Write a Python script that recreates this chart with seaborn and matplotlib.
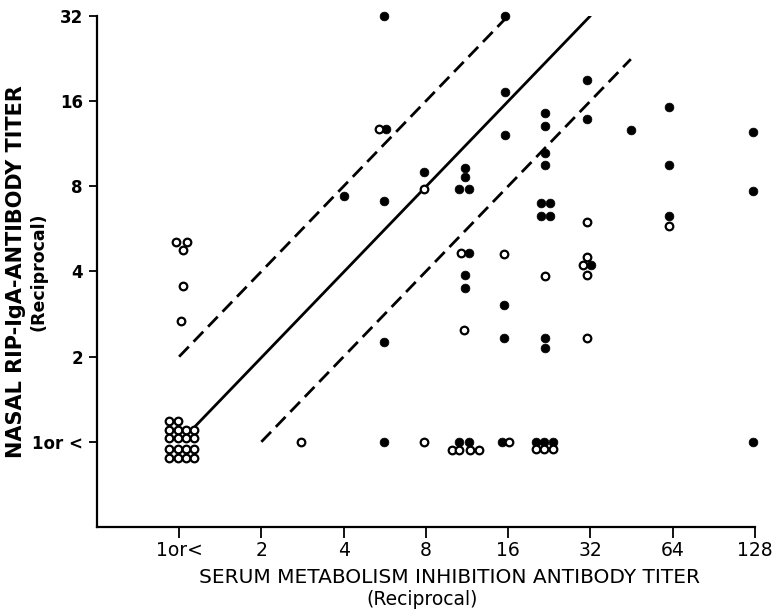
import numpy as np
import pandas as pd
import matplotlib
matplotlib.use("Agg")
import matplotlib.pyplot as plt
import seaborn as sns

# titer values (points are slightly offset around each titer)
filled_x = [4, 5.6, 5.72, 5.6, 5.6, 5.6, 7.9,
            11.1, 11.1, 10.6, 11.5, 11.5, 11.1, 11.1, 10.6, 11.5,
            15.6, 15.6, 15.6, 15.5, 15.5, 15.2,
            21.8, 21.8, 21.8, 21.8, 21.1, 22.8, 21.1, 22.8, 21.8, 21.8, 20.2, 21.6, 23.3,
            31.1, 31.1, 32.2, 45, 62, 62, 62, 126, 126, 126]
filled_y = [7.4, 32, 12.7, 7.1, 2.26, 1.0, 8.96,
            9.3, 8.6, 7.8, 7.8, 4.63, 3.9, 3.5, 1.0, 1.0,
            32, 17.2, 12.1, 3.05, 2.32, 1.0,
            14.5, 13.1, 10.5, 9.5, 7.0, 7.0, 6.3, 6.3, 2.32, 2.15, 1.0, 1.0, 1.0,
            19.0, 13.8, 4.23, 12.6, 15.2, 9.5, 6.3, 12.4, 7.7, 1.0]

open_x = [0.97, 1.07, 1.03, 1.03, 1.02,
          0.92, 0.99,
          0.92, 0.99, 1.06, 1.13,
          0.92, 0.99, 1.06, 1.13,
          0.92, 0.99, 1.06, 1.13,
          0.92, 0.99, 1.06, 1.13,
          2.8, 5.39, 7.9, 7.9,
          10.8, 11.0, 10.0, 10.6, 11.6, 12.5,
          15.5, 16.1,
          21.8, 20.2, 21.6, 23.3,
          31.1, 31.1, 30.0, 31.1, 31.1, 62]
open_y = [5.1, 5.1, 4.75, 3.54, 2.68,
          1.18, 1.18,
          1.10, 1.10, 1.10, 1.10,
          1.03, 1.03, 1.03, 1.03,
          0.945, 0.945, 0.945, 0.945,
          0.88, 0.88, 0.88, 0.88,
          1.0, 12.7, 7.8, 1.0,
          4.63, 2.49, 0.937, 0.937, 0.937, 0.937,
          4.6, 1.0,
          3.87, 0.94, 0.94, 0.94,
          5.97, 4.5, 4.23, 3.9, 2.32, 5.8]

# reference lines: y = x, y = 2x, y = x/2
solid_x = [1.12, 32]
solid_y = [1.11, 32]
upper_x = [1, 16]
upper_y = [2, 32]
lower_x = [2, 45]
lower_y = [1, 22.5]

ticks = [1, 2, 4, 8, 16, 32, 64, 128]
x_labels = ["1or<", "2", "4", "8", "16", "32", "64", "128"]
y_ticks = [1, 2, 4, 8, 16, 32]
y_labels = ["1or <", "2", "4", "8", "16", "32"]

sns.set_style("ticks")
plt.rcParams["font.family"] = ["DejaVu Sans"]
plt.rcParams["text.color"] = "black"
plt.rcParams["axes.edgecolor"] = "black"
plt.rcParams["xtick.color"] = "black"
plt.rcParams["ytick.color"] = "black"

fig = plt.figure(figsize=(7.75, 6.1), dpi=100)
ax = fig.add_axes([0.125, 0.136, 0.849, 0.838])

sns.lineplot(x=solid_x, y=solid_y, ax=ax, color="black", lw=2.0, zorder=2)
sns.lineplot(x=upper_x, y=upper_y, ax=ax, color="black", lw=2.0, zorder=2)
ax.lines[-1].set_dashes([5, 2.5])
sns.lineplot(x=lower_x, y=lower_y, ax=ax, color="black", lw=2.0, zorder=2)
ax.lines[-1].set_dashes([5, 2.5])

filled = pd.DataFrame({"x": filled_x, "y": filled_y})
hollow = pd.DataFrame({"x": open_x, "y": open_y})
sns.scatterplot(data=filled, x="x", y="y", ax=ax, color="black", s=40,
                edgecolor="black", linewidth=0.5, zorder=4, clip_on=False)
sns.scatterplot(data=hollow, x="x", y="y", ax=ax, facecolor="white", s=30,
                edgecolor="black", linewidth=1.6, zorder=4, clip_on=False)

ax.set_xscale("log", base=2)
ax.set_yscale("log", base=2)
ax.set_xlim(0.5, 128)
ax.set_ylim(0.5, 32)
ax.set_xticks(ticks)
ax.set_xticklabels(x_labels, fontsize=13.5)
ax.set_yticks(y_ticks)
ax.set_yticklabels(y_labels, fontsize=12, fontweight="bold")
ax.minorticks_off()
ax.tick_params(axis="x", length=8, width=1.3, pad=2, labelcolor="black")
ax.tick_params(axis="y", length=6, width=1.3, pad=4, labelcolor="black")
for s in ["left", "bottom"]:
    ax.spines[s].set_linewidth(1.6)
sns.despine(ax=ax)
ax.set_xlabel("")
ax.set_ylabel("")

fig.text(0.58, 0.053, "SERUM METABOLISM INHIBITION ANTIBODY TITER",
         ha="center", va="center", fontsize=14.5)
fig.text(0.545, 0.017, "(Reciprocal)", ha="center", va="center", fontsize=13.5)
fig.text(0.021, 0.555, "NASAL RIP-IgA-ANTIBODY TITER", rotation=90,
         ha="center", va="center", fontsize=15, fontweight="bold")
fig.text(0.05, 0.555, "(Reciprocal)", rotation=90,
         ha="center", va="center", fontsize=12.5, fontweight="bold")

fig.savefig("out.png", dpi=100)
